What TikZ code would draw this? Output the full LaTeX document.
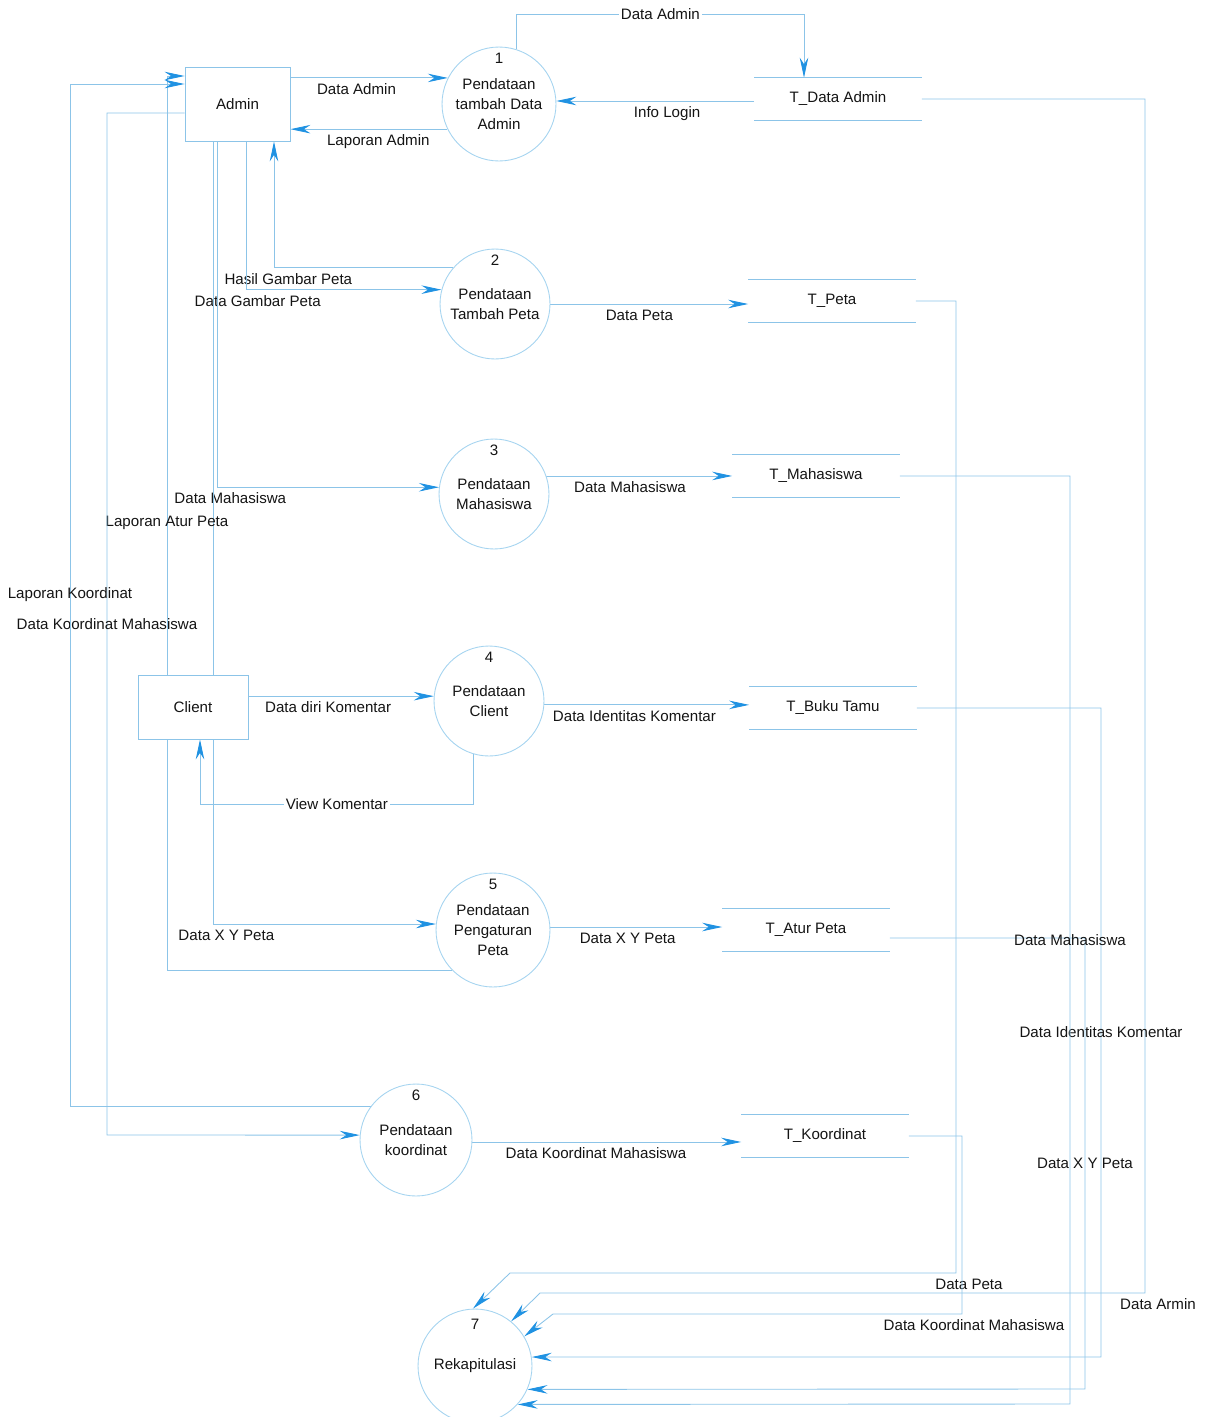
\documentclass[tikz,border=0pt]{standalone}
\usepackage{fontspec}
\setmainfont{Liberation Sans}
\usetikzlibrary{arrows.meta,backgrounds}
\definecolor{garisbiru}{RGB}{140,196,232}
\definecolor{bulat}{RGB}{165,212,240}
\definecolor{panah}{RGB}{32,146,226}
\definecolor{tulisan}{RGB}{20,20,20}
\begin{document}
\begin{tikzpicture}[x=0.02cm,y=-0.02cm,
    font=\fontsize{8.6}{11.3}\selectfont,text=tulisan,
    entity/.style={draw=garisbiru,fill=white,line width=0.5pt,inner sep=0pt},
    proc/.style={circle,draw=bulat,fill=white,line width=0.5pt,inner
        sep=0pt,align=center},
    num/.style={anchor=north,yshift=-0.12cm,inner sep=0pt},
    store/.style={minimum width=3.34cm,minimum height=0.84cm,inner sep=0pt},
    garis/.style={draw=garisbiru,line width=0.5pt},
    flow/.style={garis,-{Stealth[length=4mm,width=1.7mm,inset=1.3mm,color=panah]}},
    lbl/.style={inner sep=1pt,below=2pt},
    online/.style={inner sep=1pt}]

    \useasboundingbox (0,0) rectangle (1209,1417);

    % the entities

    \node[entity,minimum width=2.1cm,minimum height=1.48cm] (admin) at (237.5,104) {Admin};
    \node[entity,minimum width=2.2cm,minimum height=1.28cm] (client) at (193,707) {Client};

    % the processes

    \node[proc,minimum size=2.28cm,label={[num]north:1}] (p1) at (499,104) {Pendataan\\tambah Data\\Admin};
    \node[proc,minimum size=2.2cm,label={[num]north:2}] (p2) at (495,304) {Pendataan\\Tambah Peta};
    \node[proc,minimum size=2.2cm,label={[num]north:3}] (p3) at (494,494) {Pendataan\\Mahasiswa};
    \node[proc,minimum size=2.2cm,label={[num]north:4}] (p4) at (489,701) {Pendataan\\Client};
    \node[proc,minimum size=2.28cm,label={[num]north:5}] (p5) at (493,930) {Pendataan\\Pengaturan\\Peta};
    \node[proc,minimum size=2.24cm,label={[num]north:6}] (p6) at (416,1140) {Pendataan\\koordinat};
    \node[proc,minimum size=2.28cm,label={[num,yshift=-0.08cm]north:7}] (p7) at (475,1366) {Rekapitulasi};

    % the data stores

    \node[store] (tadmin) at (838,99) {T\_Data Admin};
    \node[store] (tpeta) at (832,301) {T\_Peta};
    \node[store] (tmhs) at (816,476) {T\_Mahasiswa};
    \node[store] (tbuku) at (833,708) {T\_Buku Tamu};
    \node[store] (tatur) at (806,930) {T\_Atur Peta};
    \node[store] (tkoord) at (825,1136) {T\_Koordinat};

    \foreach \s in {tadmin,tpeta,tmhs,tbuku,tatur,tkoord}
    \draw[garis] (\s.north west) -- (\s.north east) (\s.south west) -- (\s.south east);

    \begin{scope}[on background layer]
    % admin
    \draw[flow] (admin.east |- p1.153) -- node[lbl,pos=.42]{Data Admin} (p1.153);
    \draw[flow] (p1.206) -- node[lbl,pos=.44]{Laporan Admin} (admin.east |- p1.206);
    \draw[flow] (p1.72) |- node[online,fill=white,pos=.75]{Data Admin} (804,14)
    -- (tadmin.north -| 804,0);
    \draw[flow] (tadmin.west |- p1.3) -- node[lbl,pos=.44]{Info Login} (p1.3);

    \draw[flow] (p2.139) -| node[lbl,below=0pt,pos=.46]{Hasil Gambar Peta}
    (admin.south -| 274,0);
    \draw[flow] (admin.south -| 246,0) |- node[lbl,below=0pt,pos=.53]{Data Gambar Peta}
    (p2.165);
    \draw[flow] (admin.south -| 217,0) |- node[lbl,below=0pt,pos=.53]{Data Mahasiswa}
    (p3.173);
    \draw[flow] (admin.south -| 213,0) |- node[lbl,below=0pt,pos=.53]{Data X Y Peta}
    (p5.174);
    \draw[flow] (p5.225) -| node[online,pos=.75]{Laporan Atur Peta} (167,76)
    -- (admin.west |- 167,76);
    \draw[flow] (admin.west |- 0,113) -| node[online,pos=.75]{Data Koordinat Mahasiswa}
    (107,1135) -- (p6.175);
    \draw[flow] (p6.143) -| node[online,pos=.75]{Laporan Koordinat} (70,84)
    -- (admin.west |- 70,84);

    % client
    \draw[flow] (client.east |- p4.175) -- node[lbl,pos=.43]{Data diri Komentar} (p4.175);
    \draw[flow] (p4.254) |- node[online,fill=white,pos=.75]{View Komentar} (200,804)
    -- (client.south -| 200,0);

    % to the stores
    \draw[flow] (p2.east) -- node[lbl,pos=.45]{Data Peta} (tpeta.west |- p2.east);
    \draw[flow] (p3.19) -- node[lbl,pos=.45]{Data Mahasiswa} (tmhs.west |- p3.19);
    \draw[flow] (p4.-4) -- node[lbl,pos=.44]{Data Identitas Komentar} (tbuku.west |- p4.-4);
    \draw[flow] (p5.3) -- node[lbl,pos=.45]{Data X Y Peta} (tatur.west |- p5.3);
    \draw[flow] (p6.-2) -- node[lbl,pos=.46]{Data Koordinat Mahasiswa} (tkoord.west |- p6.-2);

    % rekapitulasi
    \draw[flow] (tpeta.east) -| (956,1273) -- node[lbl,below=0pt,pos=0,xshift=0.26cm]{Data Peta}
    (510,1273) -- (p7.92);
    \draw[flow] (tadmin.east) -| (1145,1293) -- node[lbl,below=0pt,pos=0,xshift=0.26cm]{Data Armin}
    (540,1293) -- (p7.51);
    \draw[flow] (tkoord.east) -| (962,1314) -- node[lbl,below=0pt,pos=0,xshift=0.24cm]{Data Koordinat Mahasiswa}
    (553,1314) -- (p7.31);
    \draw[flow] (tbuku.east) -| node[online,pos=.75]{Data Identitas Komentar} (1101,1357)
    -- (p7.9);
    \draw[flow] (tatur.east |- 0,938) -| node[online,pos=.75]{Data X Y Peta} (1085,1389)
    -- (p7.-24);
    \draw[flow] (tmhs.east) -| node[online,pos=.75]{Data Mahasiswa} (1070,1404)
    -- (p7.-42);
    \end{scope}
\end{tikzpicture}
\end{document}
